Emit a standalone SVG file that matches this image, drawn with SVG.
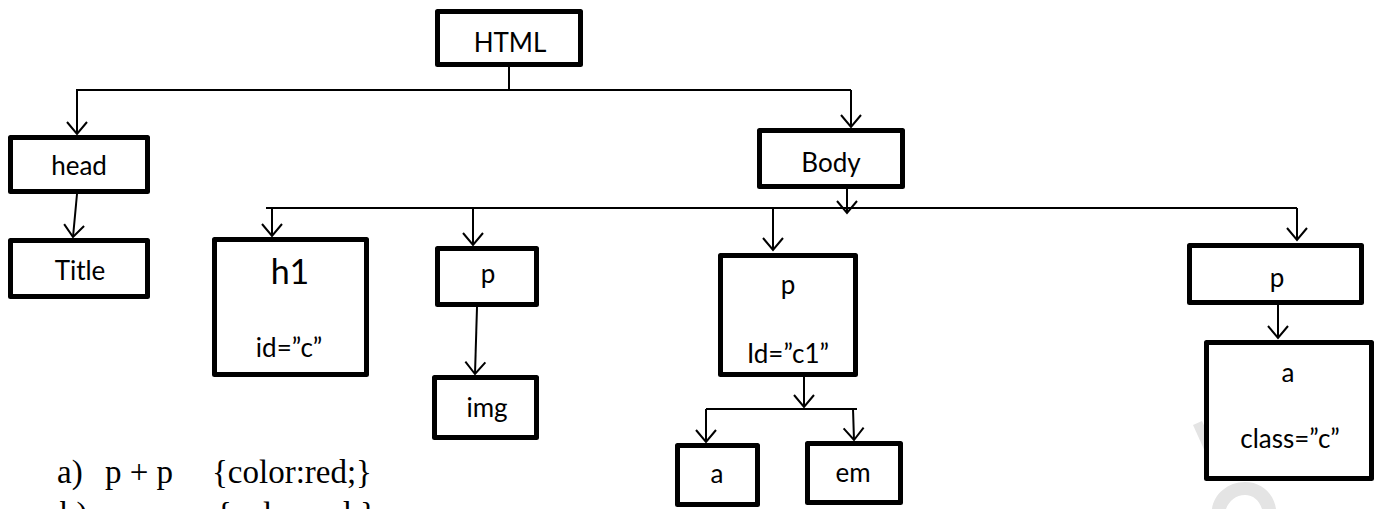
<svg xmlns="http://www.w3.org/2000/svg" width="1377" height="509" viewBox="0 0 1377 509">
<style>
.box{fill:#fff;stroke:#000;stroke-width:5;stroke-linejoin:round}
.lbl{font-family:Lato,"Open Sans",sans-serif;font-size:26px;fill:#000;text-anchor:middle}
.big{font-size:34px}
.con{fill:none;stroke:#000;stroke-width:2}
.q{font-family:"Liberation Serif","Times New Roman",serif;font-size:33px;fill:#000}
.wm{fill:#e4e4e4;stroke:none}
</style>
<defs>
<marker id="arr" markerUnits="userSpaceOnUse" markerWidth="30" markerHeight="30" refX="0" refY="0" orient="auto" viewBox="-15 -15 30 30" overflow="visible">
<path d="M-12,-10 L0,0 L-12,10" fill="none" stroke="#000" stroke-width="2"/>
</marker>
</defs>
<rect width="1377" height="509" fill="#fff"/>
<g id="watermark">
<path class="wm" d="M1193,425 L1202,421 L1216,452 L1207,456 Z"/>
<path class="wm" d="M1212,509 C1214,494 1228,482 1245,482 C1262,482 1274,494 1276,509 L1262,509 C1259,500 1253,495 1245,495 C1236,495 1229,501 1226,509 Z"/>
</g>
<g id="connectors">
<path class="con" d="M509,67 V90"/>
<path class="con" d="M851,90 H77 V134" marker-end="url(#arr)"/>
<path class="con" d="M851,90 V127" marker-end="url(#arr)"/>
<path class="con" d="M77,194 L73,237" marker-end="url(#arr)"/>
<path class="con" d="M847,189 V213" marker-end="url(#arr)"/>
<path class="con" d="M266,208 H1297"/>
<path class="con" d="M272,208 V236" marker-end="url(#arr)"/>
<path class="con" d="M473,208 V245" marker-end="url(#arr)"/>
<path class="con" d="M773,208 V250" marker-end="url(#arr)"/>
<path class="con" d="M1297,208 V240" marker-end="url(#arr)"/>
<path class="con" d="M477,307 L475,374" marker-end="url(#arr)"/>
<path class="con" d="M804,377 V407" marker-end="url(#arr)"/>
<path class="con" d="M706,409 H857"/>
<path class="con" d="M706,409 V442" marker-end="url(#arr)"/>
<path class="con" d="M853,409 L854,440" marker-end="url(#arr)"/>
<path class="con" d="M1278,300 V338" marker-end="url(#arr)"/>
</g>
<g id="node-html"><rect class="box" x="437.5" y="11.5" width="143" height="53"/><text class="lbl" x="510" y="52">HTML</text></g>
<g id="node-head"><rect class="box" x="10.5" y="137.5" width="137" height="54"/><text class="lbl" x="79" y="175">head</text></g>
<g id="node-title"><rect class="box" x="10.5" y="240.5" width="137" height="56"/><text class="lbl" x="80" y="280">Title</text></g>
<g id="node-body"><rect class="box" x="759.5" y="130.5" width="143" height="56"/><text class="lbl" x="831" y="172">Body</text></g>
<g id="node-h1"><rect class="box" x="214.5" y="239.5" width="152" height="135"/><text class="lbl big" x="290" y="284">h1</text><text class="lbl" x="289" y="357">id=”c”</text></g>
<g id="node-p1"><rect class="box" x="437.5" y="248.5" width="99" height="56"/><text class="lbl" x="488" y="283">p</text></g>
<g id="node-img"><rect class="box" x="434.5" y="377.5" width="102" height="60"/><text class="lbl" x="487" y="417">img</text></g>
<g id="node-p2"><rect class="box" x="720.5" y="255.5" width="135" height="119"/><text class="lbl" x="788" y="294">p</text><text class="lbl" x="788" y="363">Id=”c1”</text></g>
<g id="node-a1"><rect class="box" x="677.5" y="445.5" width="80" height="59"/><text class="lbl" x="717" y="483">a</text></g>
<g id="node-em"><rect class="box" x="807.5" y="443.5" width="93" height="59"/><text class="lbl" x="853" y="482">em</text></g>
<g id="node-p3"><rect class="box" x="1189.5" y="245.5" width="172" height="57"/><text class="lbl" x="1277" y="287">p</text></g>
<g id="node-a2"><rect class="box" x="1206.5" y="342.5" width="165" height="136"/><text class="lbl" x="1288" y="382">a</text><text class="lbl" x="1290" y="448">class=”c”</text></g>
<g id="questions">
<text class="q" x="57" y="483">a)</text>
<text class="q" x="105" y="483">p + p</text>
<text class="q" x="212" y="483">{color:red;}</text>
<text class="q" x="60" y="525">b)</text>
<text class="q" x="216" y="525">{color:red;}</text>
</g>
</svg>
